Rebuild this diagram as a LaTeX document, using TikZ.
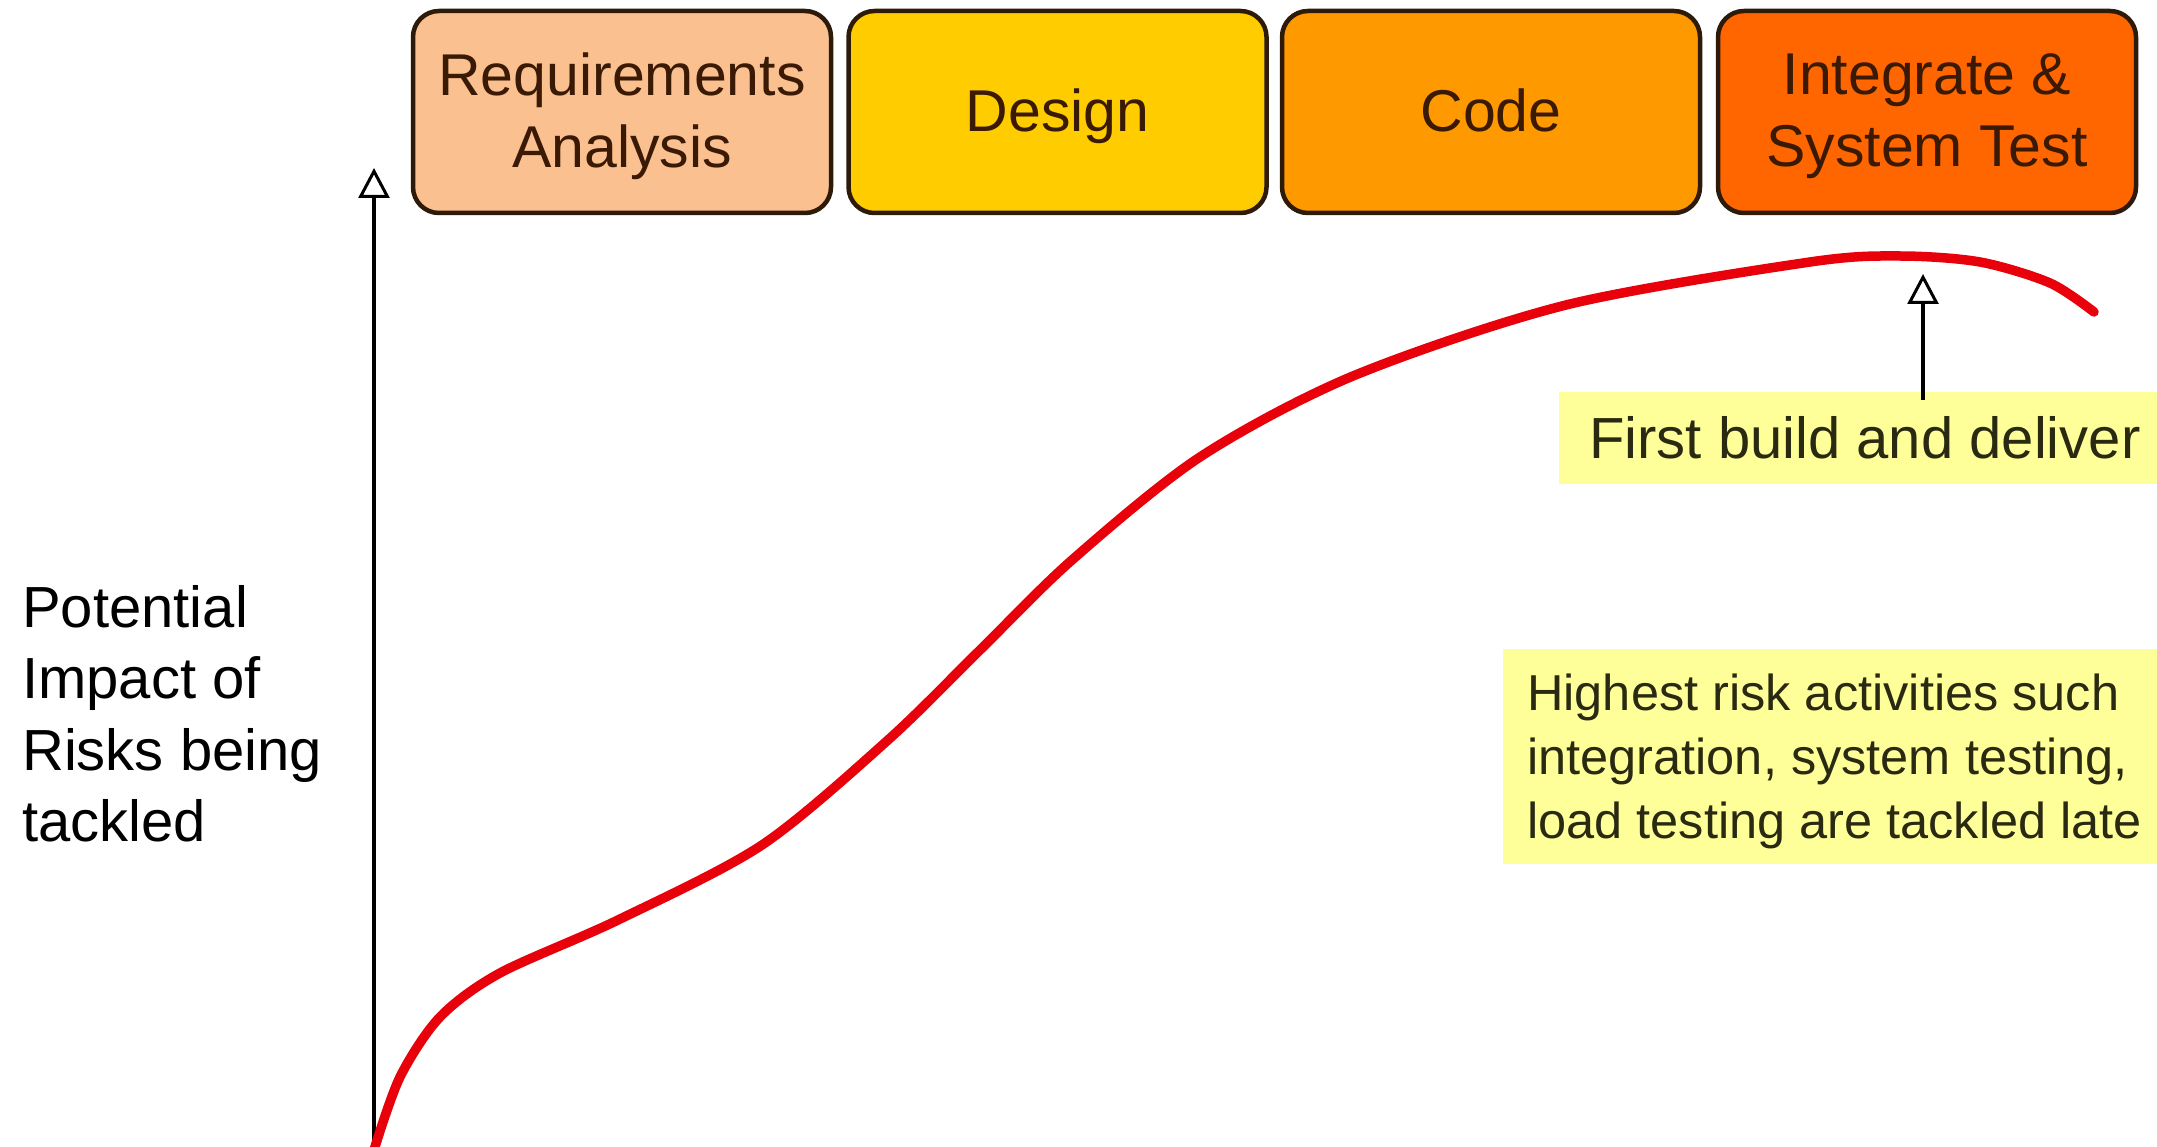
\documentclass[tikz,border=0pt]{standalone}
\usepackage{fontspec}
\setmainfont{Liberation Sans}
\usetikzlibrary{arrows.meta}
\definecolor{reqfill}{HTML}{FAC08F}
\definecolor{desfill}{HTML}{FFCC00}
\definecolor{codefill}{HTML}{FF9900}
\definecolor{intfill}{HTML}{FF6600}
\definecolor{boxline}{HTML}{2E1A08}
\definecolor{boxtext}{HTML}{3A1A05}
\definecolor{notefill}{HTML}{FFFF99}
\definecolor{notetext}{HTML}{2A2A12}
\definecolor{curvered}{HTML}{E8000A}
\tikzset{
  phase/.style={draw=boxline, line width=4.5pt, rounded corners=26pt,
    minimum width=418pt, minimum height=202pt, inner sep=0pt},
  phasetext/.style={text=boxtext, align=center, inner sep=0pt,
    font=\fontsize{59}{71.5}\selectfont},
  notebox/.style={fill=notefill, draw=none},
  notetxt/.style={text=notetext, inner sep=0pt, align=left},
  pointer/.style={line width=3.5pt, black,
    -{Triangle[open, length=30pt, width=31pt, line width=3pt]}},
  riskcurve/.style={curvered, line width=9.5pt, line cap=round}
}
\begin{document}
\begin{tikzpicture}[x=1pt, y=-1pt]
\useasboundingbox (0,0) rectangle (2157,1147);
\clip (0,0) rectangle (2157,1147);

% lifecycle phases
\node[phase, fill=reqfill] (req) at (622,112) {};
\node[phase, fill=desfill] (des) at (1057.5,112) {};
\node[phase, fill=codefill] (code) at (1491,112) {};
\node[phase, fill=intfill] (integ) at (1927,112) {};
\node[phasetext] (reqtxt) at ([yshift=-4pt]req.center) {Requirements\\Analysis};
\node[phasetext] (destxt) at ([yshift=-4pt]des.center) {Design};
\node[phasetext] (codetxt) at ([yshift=-4pt]code.center) {Code\vphantom{g}};
\node[phasetext] (integtxt) at ([yshift=-4pt]integ.center) {Integrate \&\\System Test};

% vertical axis
\coordinate (axisbase) at (374,1150);
\coordinate (axistop) at (374,168);
\draw[pointer] (axisbase) -- (axistop);

\node[notetxt, anchor=west, text=black,
  font=\fontsize{58}{71.5}\selectfont] (ylabel) at (22,714)
  {Potential\\Impact of\\Risks being\\tackled};

% risk curve
\draw[riskcurve] plot[smooth, tension=0.5] coordinates {
  (374,1150) (400,1077) (440,1017) (500,973) (618,920) (762,845)
  (888,740) (980,650) (1072,560) (1200,457) (1353,376) (1566,305)
  (1810,262) (1900,256) (1980,262) (2050,283) (2094,312)};

% first delivery note
\fill[notebox] (1559,392) rectangle (2160,484);
\node[notetxt, anchor=base west, font=\fontsize{58}{70}\selectfont]
  (firstbuild) at (1589,458) {First build and deliver};
\coordinate (firsttip) at (1923,274);
\coordinate (firstfoot) at (1923,400);
\draw[pointer] (firstfoot) -- (firsttip);

% late risk note
\fill[notebox] (1503,649) rectangle (2160,864);
\node[notetxt, anchor=base west, font=\fontsize{50.5}{64}\selectfont]
  (latenote) at (1527,838)
  {Highest risk activities such\\integration, system testing,\\load testing are tackled late};
\end{tikzpicture}
\end{document}
